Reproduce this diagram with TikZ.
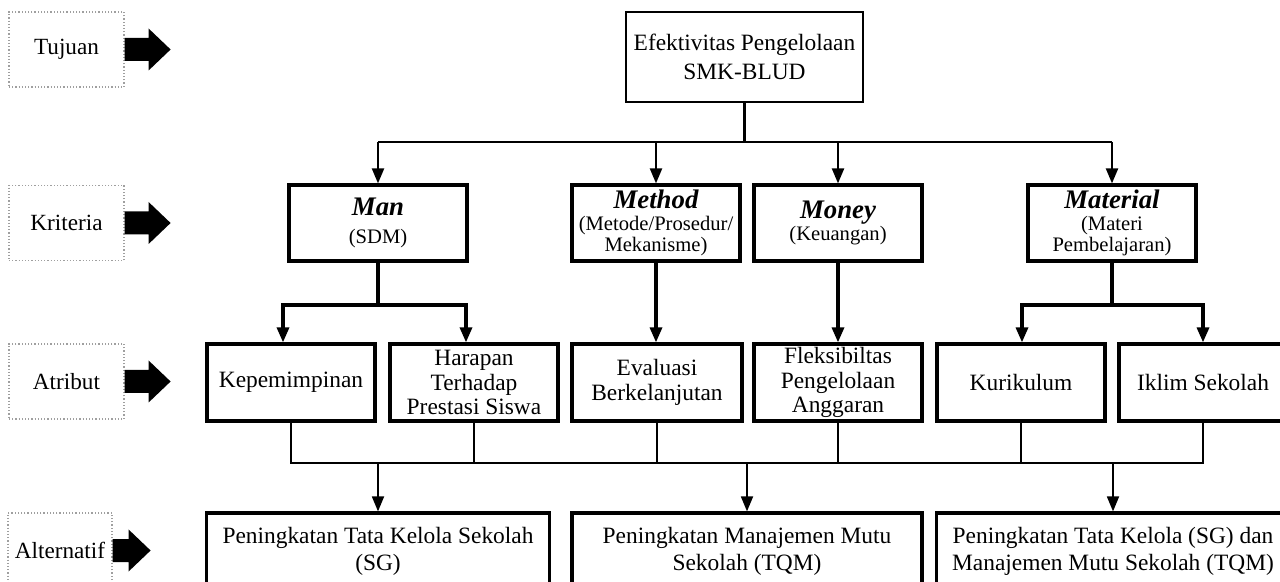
\documentclass[tikz,border=0pt]{standalone}
\usepackage{fontspec}
\setmainfont{Liberation Serif}
\usetikzlibrary{arrows.meta}
\newcommand{\blockarr}[2]{\fill (#1.east) ++(0,-11.5) -- ++(#2,0) -- ++(0,-9.5) -- ++(22,21) -- ++(-22,21) -- ++(0,-9.5) -- ++(-#2,0) -- cycle;}
\newcommand{\crittitle}[1]{{\fontsize{13.4}{14}\selectfont\bfseries\itshape #1}}
\begin{document}
\begin{tikzpicture}[x=0.5pt,y=-0.5pt,
  lbl/.style={draw=gray!75, densely dotted, line width=0.6pt, minimum width=57.5pt, minimum height=37.5pt, inner sep=0pt, font=\fontsize{11.6}{13}\selectfont},
  topbox/.style={draw, line width=1.3pt, minimum width=118.5pt, minimum height=45pt, inner sep=1pt, align=center, font=\fontsize{11.7}{14.5}\selectfont},
  crit/.style={draw, line width=1.6pt, minimum width=84pt, minimum height=38pt, inner sep=1pt, align=center, font=\fontsize{10.3}{10.6}\selectfont},
  attr/.style={draw, line width=1.6pt, minimum width=84pt, minimum height=38.5pt, inner sep=1pt, align=center, font=\fontsize{11.7}{12.3}\selectfont},
  alter/.style={draw, line width=1.6pt, minimum height=38.5pt, inner sep=1pt, align=center, font=\fontsize{11.7}{13.5}\selectfont},
  topline/.style={line width=1.1pt},
  thickline/.style={line width=1.6pt},
  thinline/.style={line width=0.9pt},
  arr/.style={-{Triangle[length=7.5pt,width=6pt]}}
]
\fill[white] (0,0) rectangle (1280,582);
\useasboundingbox (0,0) rectangle (1280,582);

% level labels
\node[lbl] (tuj) at (66.5,49.5) {Tujuan};
\node[lbl] (kri) at (66.5,223) {Kriteria};
\node[lbl] (atr) at (66.5,381.5) {Atribut};
\node[lbl, minimum width=52pt] (alt) at (60,550.5) {Alternatif};
\blockarr{tuj}{24}
\blockarr{kri}{24}
\blockarr{atr}{24}
\blockarr{alt}{16}

% goal
\node[topbox] (top) at (744.5,57) {Efektivitas Pengelolaan\\SMK-BLUD};

% criteria
\node[crit, minimum width=89pt] (man) at (378,223) {\crittitle{Man}\\[3pt](SDM)};
\node[crit] (met) at (656,223) {\crittitle{Method}\\(Metode/Prosedur/\\Mekanisme)};
\node[crit] (mon) at (838,223) {\crittitle{Money}\\(Keuangan)};
\node[crit] (mat) at (1112,223) {\crittitle{Material}\\(Materi\\Pembelajaran)};

% attributes
\node[attr] (kep) at (291,382.5) {Kepemimpinan};
\node[attr] (har) at (474,382.5) {Harapan\\Terhadap\\Prestasi Siswa};
\node[attr, minimum width=85pt] (eva) at (657,382.5) {Evaluasi\\Berkelanjutan};
\node[attr] (fle) at (838,382.5) {Fleksibiltas\\Pengelolaan\\Anggaran};
\node[attr] (kur) at (1021,382.5) {Kurikulum};
\node[attr] (ikl) at (1203,382.5) {Iklim Sekolah};

% alternatives
\node[alter, minimum width=171.5pt] (sg) at (378,551.5) {Peningkatan Tata Kelola Sekolah\\(SG)};
\node[alter, minimum width=175pt] (tqm) at (747,551.5) {Peningkatan Manajemen Mutu\\Sekolah (TQM)};
\node[alter, minimum width=176.5pt] (both) at (1113,551.5) {Peningkatan Tata Kelola (SG) dan\\Manajemen Mutu Sekolah (TQM)};

% goal -> criteria
\coordinate (hbar) at (0,142);
\draw[topline] (top.south) -- (top.south |- hbar);
\draw[topline] (man.north |- hbar) -- (mat.north |- hbar);
\foreach \n in {man,met,mon,mat}
  \draw[topline, arr] (\n.north |- hbar) -- (\n.north);

% criteria -> attributes
\coordinate (msplit) at (0,305);
\coordinate (mk) at (283,305);
\coordinate (mh) at (466,305);
\coordinate (tk) at (1022,305);
\coordinate (ti) at (1203,305);
\draw[thickline] (man.south) -- (man.south |- msplit);
\draw[thickline, arr] (mh) -- (mk) -- (mk |- kep.north);
\draw[thickline, arr] (mk) -- (mh) -- (mh |- har.north);
\draw[thickline, arr] (met.south) -- (met.south |- eva.north);
\draw[thickline, arr] (mon.south) -- (mon.south |- fle.north);
\draw[thickline] (mat.south) -- (mat.south |- msplit);
\draw[thickline, arr] (ti) -- (tk) -- (tk |- kur.north);
\draw[thickline, arr] (tk) -- (ti) -- (ti |- ikl.north);

% attributes -> alternatives
\coordinate (bus) at (0,463);
\draw[thinline] (kep.south) -- (kep.south |- bus) -- (ikl.south |- bus) -- (ikl.south);
\foreach \n in {har,eva,fle,kur}
  \draw[thinline] (\n.south) -- (\n.south |- bus);
\draw[thinline, arr] (sg.north |- bus) -- (sg.north);
\draw[thinline, arr] (tqm.north |- bus) -- (tqm.north);
\draw[thinline, arr] (both.north |- bus) -- (both.north);
\end{tikzpicture}
\end{document}
